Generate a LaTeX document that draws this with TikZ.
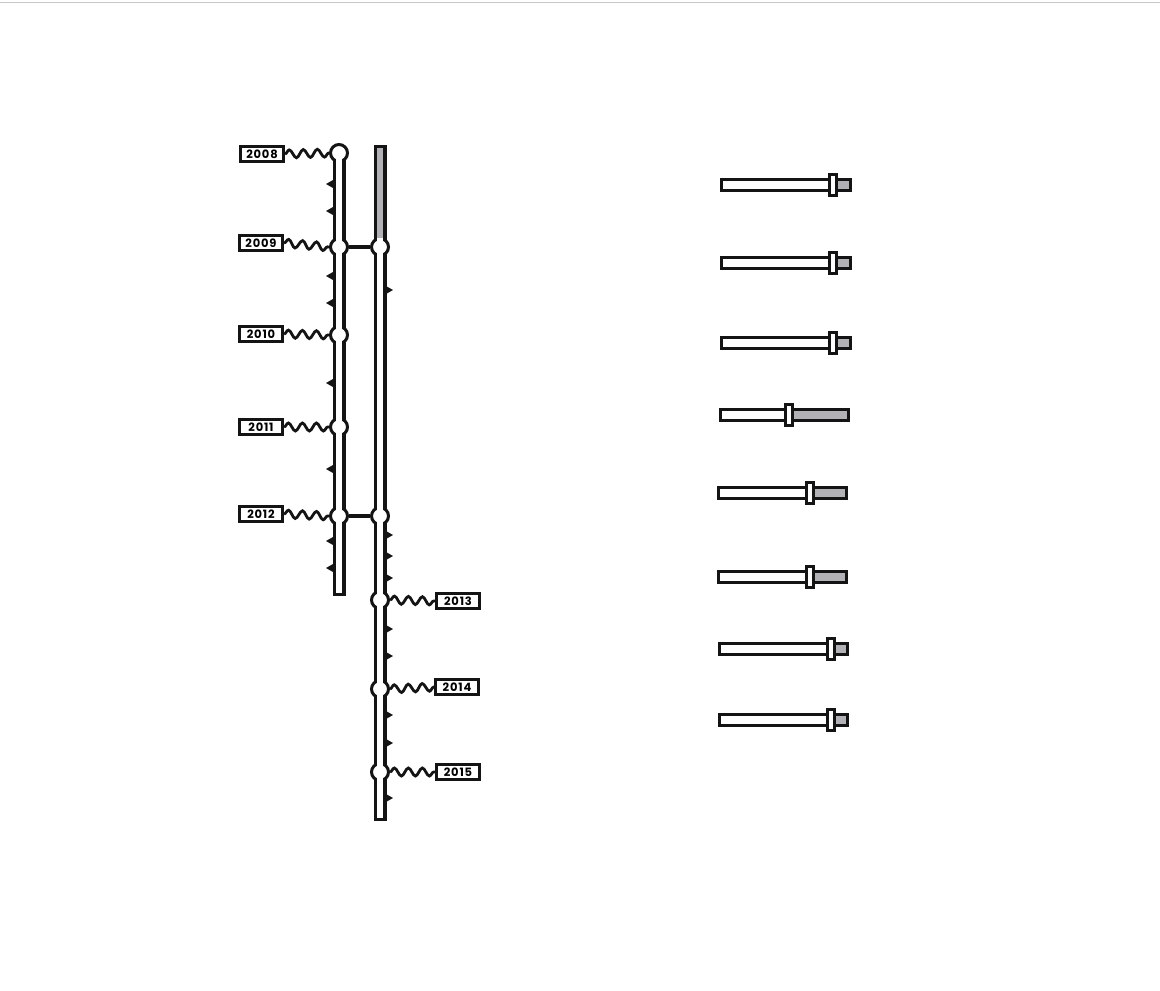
\documentclass[tikz,border=0pt]{standalone}
\usepackage{fontspec}
\newfontfamily\labfont{Poppins}[LetterSpace=7]
\usetikzlibrary{decorations.pathmorphing}
\definecolor{barfill}{RGB}{178,178,182}
\definecolor{ink}{RGB}{20,20,20}
\tikzset{
  yearbox/.style={draw=ink, line width=3pt, fill=white, minimum width=43pt, minimum height=15pt, inner sep=0pt, font=\labfont\bfseries\fontsize{11.5}{11.5}\selectfont},
  stopc/.style={circle, draw=ink, line width=3pt, fill=white, minimum size=17pt, inner sep=0pt},
  wave/.style={draw=ink, line width=2.8pt, decorate, decoration={snake, segment length=14pt, amplitude=4pt}},
  tubeout/.style={line width=13pt, ink},
  tubein/.style={line width=5.5pt, white},
  tubegray/.style={line width=5.5pt, barfill},
  link/.style={draw=ink, line width=3.2pt},
  flag/.style={fill=ink},
  track/.style={draw=ink, line width=3pt},
  knob/.style={draw=ink, line width=2.6pt, fill=white},
  topline/.style={draw=black!22, line width=1pt}
}
\newcommand\myslider[4]{%
  \fill[barfill] (#4,#1-5) rectangle (#3,#1+5);
  \draw[track] (#2+1.5,#1-5.5) rectangle (#3-1.5,#1+5.5);
  \draw[knob] (#4-3.5,#1-10.5) rectangle (#4+3.5,#1+10.5);
}
\newcommand\lflag[1]{\fill[flag] (333,#1-4) -- (326,#1) -- (333,#1+4) -- cycle;}
\newcommand\rflag[1]{\fill[flag] (386,#1-4) -- (393,#1) -- (386,#1+4) -- cycle;}
\begin{document}
\begin{tikzpicture}[x=1pt,y=-1pt]
\useasboundingbox (0,0) rectangle (1160,991);
\fill[white] (0,0) rectangle (1160,991);
\draw[topline] (0,2) -- (1160,2);

% tube ends
\coordinate (Lend) at (339,596);
\coordinate (LendIn) at (339,593);
\coordinate (Rtop) at (380,145);
\coordinate (RtopIn) at (380,148);
\coordinate (Rend) at (380,821);
\coordinate (RendIn) at (380,818);
\coordinate (Rgray) at (380,238);

% outer tubes
\draw[tubeout] (339,153) -- (Lend);
\draw[tubeout] (Rtop) -- (Rend);

% stops
\node[stopc] (s08) at (339,153) {};
\node[stopc] (s09) at (339,247) {};
\node[stopc] (r09) at (380,247) {};
\node[stopc] (s10) at (339,335) {};
\node[stopc] (s11) at (339,427) {};
\node[stopc] (s12) at (339,516) {};
\node[stopc] (r12) at (380,516) {};
\node[stopc] (r13) at (380,600) {};
\node[stopc] (r14) at (380,689) {};
\node[stopc] (r15) at (380,772) {};

% links between lines
\draw[link] (s09) -- (r09);
\draw[link] (s12) -- (r12);

% inner tubes
\draw[tubein] (s08.center) -- (LendIn);
\draw[tubegray] (RtopIn) -- (Rgray);
\draw[tubein] (Rgray) -- (RendIn);

% flags
\foreach \y in {184,211,276,303,383,469,541,568} {\lflag{\y}}
\foreach \y in {290,535,556,578,629,656,715,743,798} {\rflag{\y}}

% year labels
\node[yearbox] (y08) at (262,154) {2008};
\node[yearbox] (y09) at (261,243) {2009};
\node[yearbox] (y10) at (261,334) {2010};
\node[yearbox] (y11) at (261,427) {2011};
\node[yearbox] (y12) at (261,514) {2012};
\node[yearbox] (y13) at (458,601) {2013};
\node[yearbox] (y14) at (457,687) {2014};
\node[yearbox] (y15) at (458,772) {2015};

% wavy connectors
\draw[wave] (y08.east) -- (s08.west);
\draw[wave] (y09.east) -- (s09.west);
\draw[wave] (y10.east) -- (s10.west);
\draw[wave] (y11.east) -- (s11.west);
\draw[wave] (y12.east) -- (s12.west);
\draw[wave] (r13.east) -- (y13.west);
\draw[wave] (r14.east) -- (y14.west);
\draw[wave] (r15.east) -- (y15.west);

% sliders
\myslider{185}{720}{852}{833}
\myslider{263}{720}{852}{833}
\myslider{343}{720}{852}{833}
\myslider{415}{719}{850}{789}
\myslider{493}{717}{848}{810}
\myslider{577}{717}{848}{810}
\myslider{649}{718}{849}{831}
\myslider{720}{718}{849}{831}
\end{tikzpicture}
\end{document}
